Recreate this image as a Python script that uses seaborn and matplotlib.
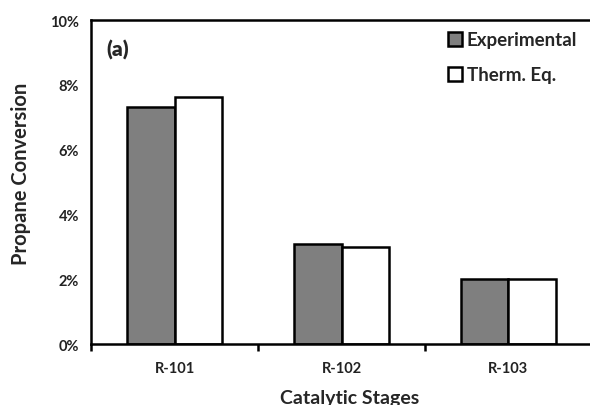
import matplotlib
matplotlib.use("Agg")
import matplotlib.pyplot as plt
import seaborn as sns
import pandas as pd
from matplotlib.ticker import FuncFormatter, FixedLocator

stages = ["R-101", "R-102", "R-103"]
experimental = [7.31, 3.09, 2.01]
therm_eq = [7.62, 2.99, 2.02]
series_names = ["Experimental", "Therm. Eq."]
colors = ["#7f7f7f", "#ffffff"]

df = pd.DataFrame({
    "Stage": stages * 2,
    "Conversion": experimental + therm_eq,
    "Series": [series_names[0]] * 3 + [series_names[1]] * 3,
})

sns.set_theme(style="white")
plt.rcParams["font.family"] = ["Lato", "DejaVu Sans"]
plt.rcParams["font.weight"] = "bold"

fig = plt.figure(figsize=(5.9, 4.06), dpi=100)
ax = fig.add_axes([0.155, 0.150, 0.848, 0.798])

sns.barplot(data=df, x="Stage", y="Conversion", hue="Series",
            palette=colors, edgecolor="black", linewidth=1.8,
            width=0.57, gap=0, ax=ax, legend=True)

ax.set_ylim(0, 10)
ax.set_xlim(-0.5, 2.5)
ax.set_yticks([0, 2, 4, 6, 8, 10])
ax.yaxis.set_major_formatter(FuncFormatter(lambda v, p: f"{v:.0f}%"))
ax.tick_params(axis="y", direction="out", length=5, width=1.8, labelsize=10.5, color="black", pad=4)
ax.tick_params(axis="x", which="major", length=0, labelsize=10.5, pad=12)
ax.xaxis.set_minor_locator(FixedLocator([-0.5, 0.5, 1.5, 2.5]))
ax.tick_params(axis="x", which="minor", direction="out", length=5, width=1.8, color="black", bottom=True)
for lab in ax.get_xticklabels() + ax.get_yticklabels():
    lab.set_fontweight("bold")
    lab.set_color("#222222")

for side in ["left", "bottom", "top"]:
    ax.spines[side].set_visible(True)
    ax.spines[side].set_color("black")
    ax.spines[side].set_linewidth(1.8)
ax.spines["right"].set_visible(False)

ax.set_ylabel("Propane Conversion", fontsize=14.5, fontweight="bold")
ax.yaxis.set_label_coords(-0.12, 0.53)
ax.set_xlabel("Catalytic Stages", fontsize=14, fontweight="bold", va="top")
ax.xaxis.set_label_coords(0.517, -0.14)

ax.text(0.03, 0.89, "(a)", transform=ax.transAxes, fontsize=15, fontweight="heavy")

leg = ax.legend(loc="upper left", bbox_to_anchor=(0.713, 0.965), frameon=False,
                fontsize=13.5, handlelength=0.75, handleheight=0.75, handletextpad=0.25,
                labelspacing=0.95, borderaxespad=0, borderpad=0)
for h in leg.legend_handles:
    h.set_edgecolor("black")
    h.set_linewidth(1.8)
for t in leg.get_texts():
    t.set_fontweight("bold")

fig.savefig("out.png", dpi=100)
